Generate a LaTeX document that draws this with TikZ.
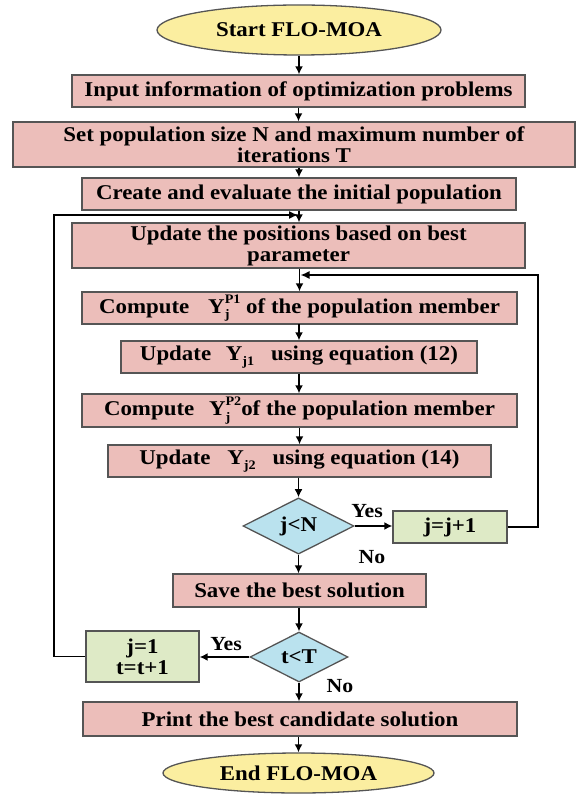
\documentclass[tikz,border=0pt]{standalone}
\usepackage{fontspec}
\setmainfont[FakeStretch=1.09]{Liberation Serif}
\usetikzlibrary{shapes.geometric,arrows.meta}
\definecolor{pinkfill}{RGB}{236,190,186}
\definecolor{yelfill}{RGB}{251,238,160}
\definecolor{bluefill}{RGB}{186,226,238}
\definecolor{grnfill}{RGB}{222,234,198}
\definecolor{edgecol}{RGB}{85,85,85}
\newcommand{\Ysubsup}[2]{Y\rlap{\raisebox{-0.55ex}{\fontsize{13}{13}\selectfont #1}}\raisebox{1.05ex}{\fontsize{13}{13}\selectfont #2}}
\newcommand{\Ysb}[1]{Y\raisebox{-0.45ex}{\fontsize{13}{13}\selectfont #1}}
\begin{document}
\begin{tikzpicture}[x=1pt,y=-1pt,
  every node/.style={font=\fontsize{21}{21}\selectfont\bfseries, inner sep=0pt},
  procbox/.style={draw=edgecol, line width=1.3pt, fill=pinkfill, rectangle, align=center},
  termbox/.style={draw=edgecol, line width=1.3pt, fill=yelfill, ellipse},
  decbox/.style={draw=edgecol, line width=1.3pt, fill=bluefill, diamond},
  grnbox/.style={draw=edgecol, line width=1.3pt, fill=grnfill, rectangle, align=center},
  arr/.style={-{Latex[length=8pt,width=8pt]}, line width=1.6pt, black},
  loopline/.style={-{Latex[length=9pt,width=8pt]}, line width=1.5pt, black},
  lbl/.style={font=\fontsize{20}{20}\selectfont\bfseries}
]
\useasboundingbox (0,0) rectangle (576,794);

\node[termbox, minimum width=284pt, minimum height=50pt] (start) at (299,30) {Start FLO-MOA};
\node[procbox, minimum width=453pt, minimum height=32pt] (input) at (298.5,91) {Input information of optimization problems};
\node[procbox, minimum width=562pt, minimum height=45pt] (setpop) at (294,144.5) {Set population size N and maximum number of\\iterations T};
\node[procbox, minimum width=434pt, minimum height=32pt] (create) at (299,194) {Create and evaluate the initial population};
\node[procbox, minimum width=453pt, minimum height=45pt] (update) at (298.5,245.5) {Update the positions based on best\\parameter};
\node[procbox, minimum width=435pt, minimum height=32pt] (comp1) at (299.5,308) {Compute\hspace{0.9em}\Ysubsup{j}{P1} of the population member};
\node[procbox, minimum width=356pt, minimum height=32pt] (upd1) at (299,357) {Update\hspace{0.7em}\Ysb{j1}\hspace{0.8em}using equation (12)};
\node[procbox, minimum width=435pt, minimum height=33pt] (comp2) at (299.5,410.5) {Compute\hspace{0.7em}\Ysubsup{j}{P2}of the population member};
\node[procbox, minimum width=383pt, minimum height=32pt] (upd2) at (299.5,461) {Update\hspace{0.8em}\Ysb{j2}\hspace{0.8em}using equation (14)};
\node[decbox, minimum width=111pt, minimum height=56pt] (jN) at (298.5,526) {j<N};
\node[grnbox, minimum width=114pt, minimum height=32pt] (jj1) at (450,527) {j=j+1};
\node[procbox, minimum width=253pt, minimum height=33pt] (save) at (299.5,590.5) {Save the best solution};
\node[decbox, minimum width=98pt, minimum height=50pt] (tT) at (299,657) {t<T};
\node[grnbox, minimum width=113pt, minimum height=51pt] (j1t) at (142.5,656.5) {j=1\\t=t+1};
\node[procbox, minimum width=434pt, minimum height=34pt] (print) at (300,719) {Print the best candidate solution};
\node[termbox, minimum width=271pt, minimum height=40pt] (end) at (298.5,773) {End FLO-MOA};

\node[lbl] (yes1) at (367,511) {Yes};
\node[lbl] (no1) at (372,557) {No};
\node[lbl] (yes2) at (226,644) {Yes};
\node[lbl] (no2) at (340,686) {No};

\coordinate (lt) at (54,215);
\coordinate (rt) at (538,275);

\draw[arr] (start.south) -- (start.south |- input.north);
\draw[arr] (input.south) -- (input.south |- setpop.north);
\draw[arr] (create.north |- setpop.south) -- (create.north);
\draw[arr] (create.south) -- (create.south |- update.north);
\draw[arr] (update.south -| comp1.north) -- (comp1.north);
\draw[arr] (comp1.south) -- (comp1.south -| upd1.north) -- (upd1.north);
\draw[arr] (upd1.south) -- (upd1.south |- comp2.north);
\draw[arr] (comp2.south -| upd2.north) -- (upd2.north);
\draw[arr] (upd2.south -| jN.north) -- (jN.north);
\draw[arr] (jN.east) -- (jN.east -| jj1.west);
\draw[arr] (jN.south) -- (jN.south |- save.north);
\draw[arr] (save.south -| tT.north) -- (tT.north);
\draw[arr] (tT.west) -- (tT.west -| j1t.east);
\draw[arr] (tT.south) -- (tT.south |- print.north);
\draw[arr] (print.south -| end.north) -- (end.north);

\draw[loopline] (j1t.west) -| (lt) -- ([xshift=-1pt]lt -| create.south);
\draw[loopline] (jj1.east) -| (rt) -- ([xshift=1pt]rt -| comp1.north);
\end{tikzpicture}
\end{document}
